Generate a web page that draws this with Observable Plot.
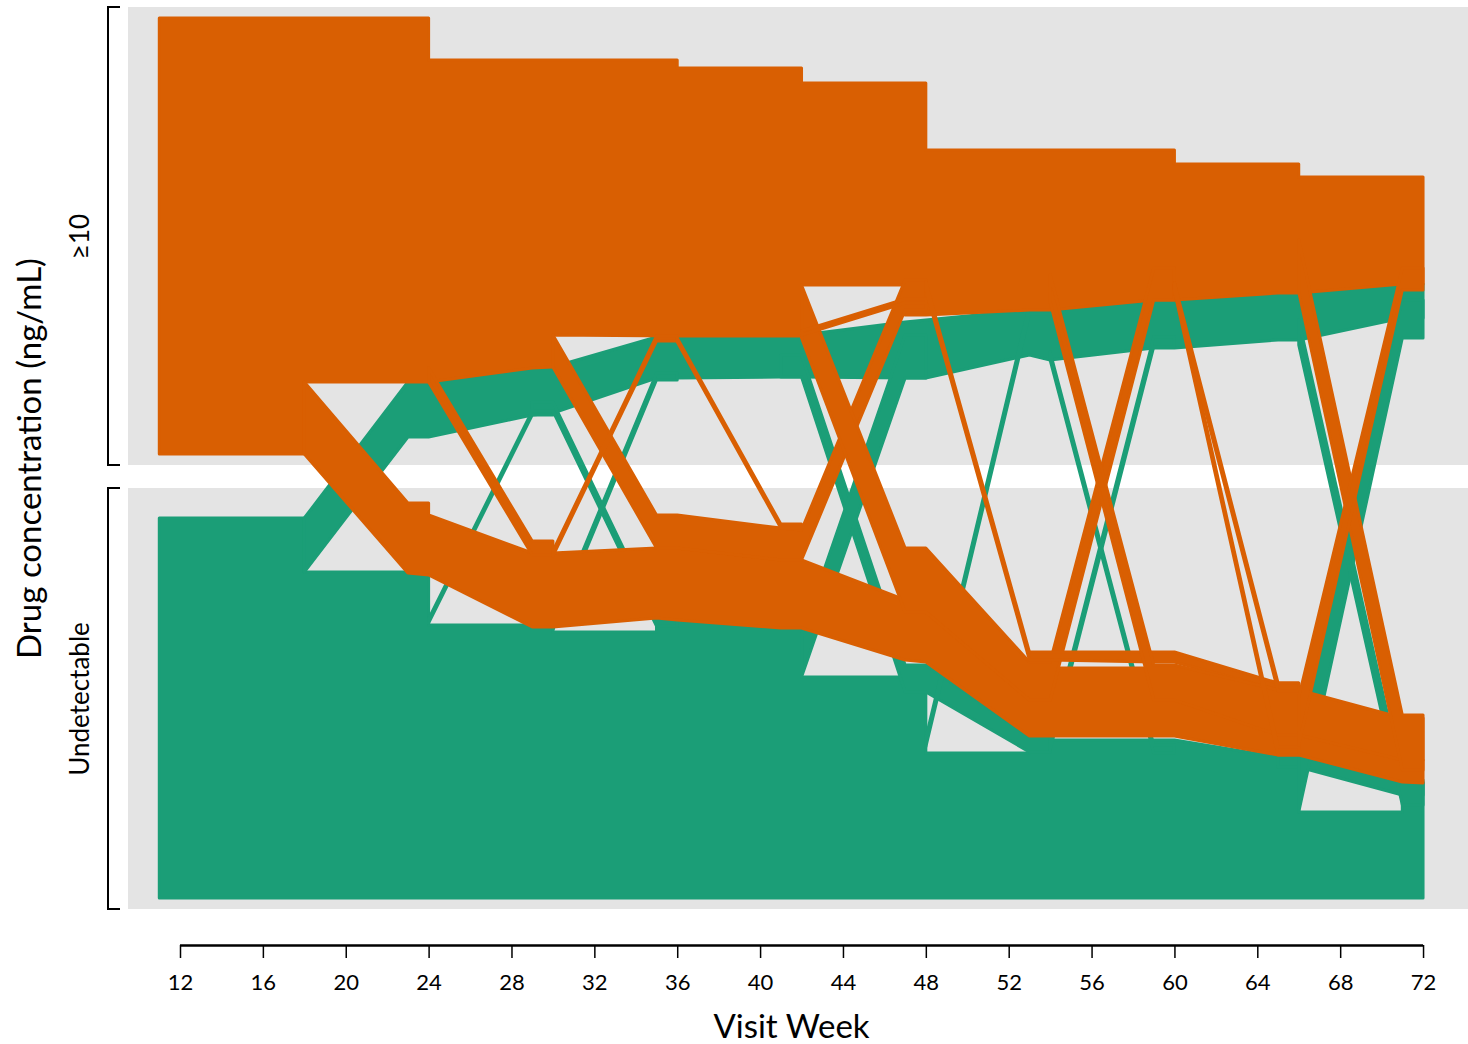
<!DOCTYPE html>
<html>
<head>
<meta charset="utf-8">
<script src="https://cdn.jsdelivr.net/npm/d3@7"></script>
<script src="https://cdn.jsdelivr.net/npm/@observablehq/plot@0.6"></script>
<style>
  html, body { margin: 0; padding: 0; background: #ffffff; }
  #chart { width: 1468px; height: 1044px; }
</style>
</head>
<body>
<div id="chart"></div>
<script>
// ---------- data ----------
// y values are stacked positions of patient lines, 7 = top of the "≥10" band, 909 = bottom of "Undetectable" band
const concentrationLevels = ["≥10", "Undetectable"];
const levelTop = [7, 488];
const levelBottom = [465, 909];
const visitWeekTicks = [12, 16, 20, 24, 28, 32, 36, 40, 44, 48, 52, 56, 60, 64, 68, 72];
const week12Groups = ["Undetectable at week 12", "≥10 at week 12"];

// bundles of patients: [id, [[week, upper position, lower position], ...]]
const greenBundles = [
  ["G0", [[11,518,898],[18,518,898],[18,572,898],[24,572,898],[24,625,898],[30,625,898],[30,632,898],[35,632,898],[35,620,898],[36,620,898],[41,628,898],[42,628,898],[42,677,898],[47,677,898],[48,677,898],[48,753,898],[53,753,898],[53,740,898],[59,740,898],[60,740,898],[65,757,898],[66,757,898],[66,812,898],[71,812,898],[71,783,898],[72,783,898]]],
  ["G1", [[18,518,572],[23,382,437],[24,382,437],[29,368,415],[30,367,413],[35,337,378],[36,337,378],[41,336,377],[42,335,377],[47,322,378],[48,320,378],[53,310,355],[54,310,360],[59,300,348],[60,300,348],[65,293,340],[66,293,340],[71,284,318],[72,284,318]]],
  ["G2", [[24,619,623],[29,411,415],[30,411,415]]],
  ["G3", [[29,402,411],[30,402,411],[35,617,626],[36,617,626]]],
  ["G4", [[30,623,630],[35,373,380],[36,373,380]]],
  ["G5", [[41,355,377],[42,355,377],[47,665,692],[48,665,692],[53,736,752],[54,736,752]]],
  ["G6", [[42,635,677],[47,335,378],[48,335,378]]],
  ["G7", [[48,738,747],[53,305,314],[54,305,314]]],
  ["G8", [[54,352,360],[59,745,753],[60,745,753]]],
  ["G9", [[54,740,750],[59,337,347],[60,337,347]]],
  ["G10", [[65,755,767],[66,755,767],[71,782,795],[72,782,795]]],
  ["G11", [[66,720,812],[71,300,338],[72,300,338]]],
  ["G12", [[66,320,345],[71,780,805],[72,780,805]]]
];

const orangeBundles = [
  ["O1", [[11,18,454],[18,18,454],[18,18,382],[24,18,382],[24,60,382],[29,60,368],[30,60,367],[30,60,335],[36,60,336],[36,68,336],[42,68,336],[42,83,285],[47,83,285],[47,83,315],[48,83,315],[48,150,315],[53,150,310],[54,150,310],[59,150,300],[60,150,300],[60,164,300],[65,164,293],[66,164,293],[66,177,293],[71,177,284],[72,177,284]]],
  ["O2", [[18,382,454],[23,503,573],[24,503,575],[24,515,575],[29,553,627],[30,553,627],[35,548,618],[36,548,620],[41,560,628],[42,560,628],[47,600,660],[48,600,662],[53,690,736],[54,668,736],[59,668,736],[60,668,736],[65,728,755],[66,728,755],[71,760,782],[72,760,783]]],
  ["O3", [[24,368,382],[29,541,555],[30,541,555]]],
  ["O4", [[30,335,367],[35,515,548],[36,515,548],[41,528,560],[42,530,560],[47,280,310],[48,280,310]]],
  ["O5", [[30,551,556],[35,336,341],[36,336,341]]],
  ["O6", [[36,338,342],[41,524,528],[42,524,528]]],
  ["O7", [[42,285,338],[47,548,612],[48,548,612],[53,662,700],[54,662,700],[59,268,300],[60,268,300]]],
  ["O8", [[42,331,335],[47,299,303],[48,299,303]]],
  ["O9", [[48,282,290],[53,652,660],[54,652,660],[59,652,662],[60,652,662],[65,683,690],[66,683,690]]],
  ["O10", [[54,275,302],[59,665,700],[60,665,700],[65,690,735],[66,690,735],[71,718,760],[72,718,760]]],
  ["O11", [[60,283,291],[65,747,755],[66,747,755]]],
  ["O12", [[60,283,291],[65,683,691],[66,683,691]]],
  ["O13", [[66,240,292],[71,715,770],[72,715,770]]],
  ["O14", [[66,697,745],[71,268,290],[72,268,290]]]
];

// ---------- build tables ----------
const xDomain = [9.49, 74.17];
const toRows = (bundles, group) =>
  bundles.flatMap(([id, pts]) => pts.map(([week, upper, lower]) => ({id, group, week, upper, lower})));
const greenRows = toRows(greenBundles, week12Groups[0]);
const orangeRows = toRows(orangeBundles, week12Groups[1]);
const levels = concentrationLevels.map((label, i) => ({label, top: levelTop[i], bottom: levelBottom[i]}));

const FONT = "Lato, 'Open Sans', sans-serif";

const ribbon = (rows) => Plot.areaY(rows, {
  x: "week", y1: "upper", y2: "lower", z: "id",
  fill: "group", stroke: "group", strokeWidth: 3, strokeLinejoin: "round"
});

const plot = Plot.plot({
  width: 1468,
  height: 1044,
  marginLeft: 128,
  marginRight: 0,
  marginTop: 7,
  marginBottom: 135,
  x: {domain: xDomain, label: null},
  y: {domain: [7, 909], reverse: true, axis: null},
  color: {domain: week12Groups, range: ["#1B9E77", "#D95F02"]},
  style: {fontFamily: FONT, background: "#ffffff", color: "#000000"},
  marks: [
    Plot.rect(levels, {x1: () => xDomain[0], x2: () => xDomain[1], y1: "top", y2: "bottom", fill: "#E4E4E4"}),
    ribbon(greenRows),
    ribbon(orangeRows),
    Plot.ruleY([909], {x1: 12, x2: 72, dy: 36, stroke: "#000000", strokeWidth: 2.5}),
    Plot.axisX(visitWeekTicks, {tickSize: 13, tickPadding: 16, dy: 36, fontSize: 22, stroke: "#000000", strokeWidth: 1.5, fill: "#000000", label: null}),
    Plot.text(["Visit Week"], {frameAnchor: "bottom", textAnchor: "middle", lineAnchor: "middle", dy: 118, dx: -7, fontSize: 33, fill: "#000000"}),
    Plot.text(["Drug concentration (ng/mL)"], {frameAnchor: "left", textAnchor: "middle", lineAnchor: "middle", rotate: -90, dx: -98, fontSize: 33, fill: "#000000"}),
    Plot.text(levels, {x: () => xDomain[0], y: d => (d.top + d.bottom) / 2, text: "label", textAnchor: "middle", lineAnchor: "middle", rotate: -90, dx: -48, fontSize: 26, fill: "#000000"})
  ]
});

// brackets for the two concentration levels, placed with the plot's own scales
const xs = plot.scale("x"), ys = plot.scale("y");
const x0 = xs.apply(xDomain[0]);
d3.select(plot).append("g")
  .selectAll("path").data(levels).join("path")
  .attr("fill", "none").attr("stroke", "#000000").attr("stroke-width", 2)
  .attr("d", d => `M${x0 - 8},${ys.apply(d.top)}H${x0 - 20}V${ys.apply(d.bottom)}H${x0 - 8}`);

document.getElementById("chart").appendChild(plot);
</script>
</body>
</html>
